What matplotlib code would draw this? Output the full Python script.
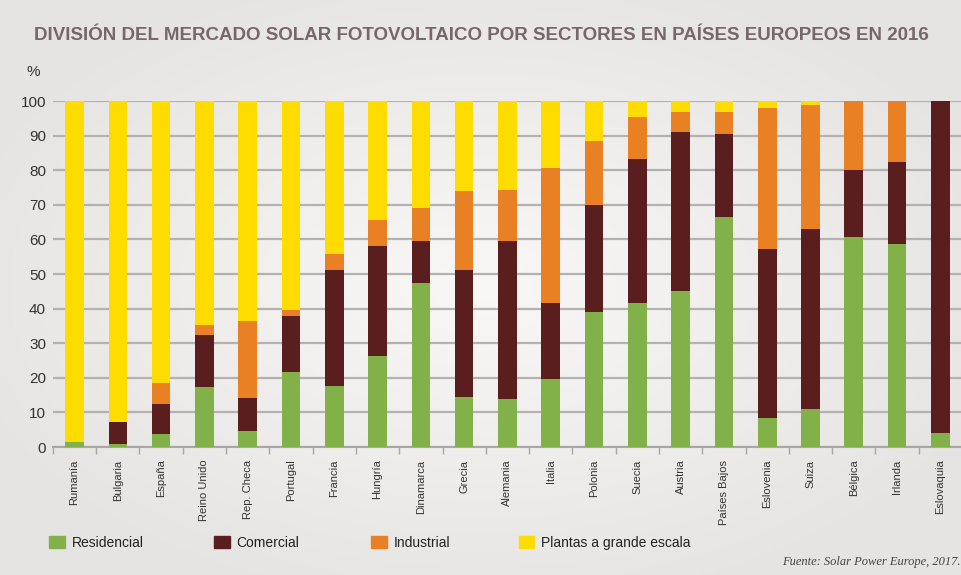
import numpy as np
import matplotlib
matplotlib.use("Agg")
import matplotlib.pyplot as plt
from matplotlib.patches import Patch

# ── Data (% share per sector) ──────────────────────────────────────────────────
countries = ["Rumanía", "Bulgaria", "España", "Reino Unido", "Rep. Checa", "Portugal",
             "Francia", "Hungría", "Dinamarca", "Grecia", "Alemania", "Italia",
             "Polonia", "Suecia", "Austria", "Países Bajos", "Eslovenia", "Suiza",
             "Bélgica", "Irlanda", "Eslovaquia"]
residencial = [1.5, 1.0, 3.7, 17.3, 4.6, 21.6, 17.7, 26.3, 47.3, 14.5, 14.0, 19.7,
               38.9, 41.5, 45.1, 66.5, 8.3, 11.0, 60.8, 58.7, 4.0]
comercial   = [0.0, 6.2, 8.8, 15.2, 9.6, 16.2, 33.6, 31.9, 12.2, 36.7, 45.5, 21.8,
               31.1, 41.6, 45.9, 24.0, 49.0, 51.9, 19.2, 23.6, 96.0]
industrial  = [0.0, 0.0, 6.0, 2.7, 22.3, 1.7, 4.5, 7.4, 9.6, 22.7, 14.9, 39.0,
               18.4, 12.3, 5.7, 6.2, 40.6, 35.9, 20.0, 17.7, 0.0]
plantas = [100 - r - c - i for r, c, i in zip(residencial, comercial, industrial)]

series = ["Residencial", "Comercial", "Industrial", "Plantas a grande escala"]
colors = ["#82b14a", "#5a1e1f", "#ea8024", "#fedc00"]

TITLE = "DIVISIÓN DEL MERCADO SOLAR FOTOVOLTAICO POR SECTORES EN PAÍSES EUROPEOS EN 2016"
SOURCE = "Fuente: Solar Power Europe, 2017."

SANS = ["Liberation Sans", "DejaVu Sans"]
BG = "#ecebe9"

# ── Figure + soft radial background ───────────────────────────────────────────
fig = plt.figure(figsize=(9.62, 5.75), dpi=100, facecolor=BG)
bg = fig.add_axes([0, 0, 1, 1], zorder=-10)
gx, gy = np.meshgrid(np.linspace(-1, 1, 200), np.linspace(-1, 1, 120))
r = np.clip(np.sqrt((gx / 1.1) ** 2 + (gy / 1.1) ** 2), 0, 1)
c0 = np.array([0.975, 0.972, 0.968])
c1 = np.array([0.905, 0.898, 0.892])
img = c0[None, None, :] * (1 - r[..., None]) + c1[None, None, :] * r[..., None]
bg.imshow(img, aspect="auto", extent=[0, 1, 0, 1], interpolation="bilinear")
bg.axis("off")

ax = fig.add_axes([0.055, 0.2226, 0.945, 0.6017])
ax.set_facecolor("none")

x = np.arange(len(countries))
bottom = np.zeros(len(countries))
for vals, col, name in zip([residencial, comercial, industrial, plantas], colors, series):
    ax.bar(x, vals, bottom=bottom, width=0.43, color=col, label=name, zorder=3)
    bottom += np.array(vals)

ax.set_xlim(-0.5, len(countries) - 0.5)
ax.set_ylim(0, 100)
ax.set_yticks(range(0, 101, 10))
ax.yaxis.grid(True, color="#b6b1b1", lw=1.6, zorder=0)
ax.set_axisbelow(True)
for s in ["top", "right", "left"]:
    ax.spines[s].set_visible(False)
ax.spines["bottom"].set_color("#aaa6a6")
ax.spines["bottom"].set_linewidth(1.5)

ax.set_xticks(x)
ax.set_xticklabels(countries, rotation=90, family=SANS, fontsize=8, color="#333333")
ax.set_xticks(np.arange(-0.5, len(countries), 1.0), minor=True)
ax.tick_params(axis="x", which="major", length=0, pad=9)
ax.tick_params(axis="x", which="minor", length=5, color="#aaa6a6", width=1)
ax.tick_params(axis="y", length=0, pad=5, labelsize=11, labelcolor="#333333")
for lab in ax.get_yticklabels():
    lab.set_family(SANS)

fig.text(0.028, 0.868, "%", fontsize=11, color="#333333", family=SANS)
fig.text(0.5, 0.938, TITLE, ha="center", va="center", fontsize=13.5, fontweight="bold",
         color="#756868", family=SANS)

# legend: one entry per series, spaced like the reference
leg_x = [0.051, 0.222, 0.386, 0.539]
for xpos, col, name in zip(leg_x, colors, series):
    lg = fig.legend(handles=[Patch(color=col, label=name)], loc="center left",
                    bbox_to_anchor=(xpos, 0.056), frameon=False,
                    handlelength=1.15, handleheight=0.95, handletextpad=0.5,
                    borderpad=0, borderaxespad=0,
                    prop={"family": SANS, "size": 10})
    for t in lg.get_texts():
        t.set_color("#222222")

fig.text(0.998, 0.012, SOURCE, ha="right", va="bottom", fontsize=9, style="italic",
         family="Liberation Serif", color="#444444")

plt.savefig("out.png", dpi=100, facecolor=BG)
plt.close()
